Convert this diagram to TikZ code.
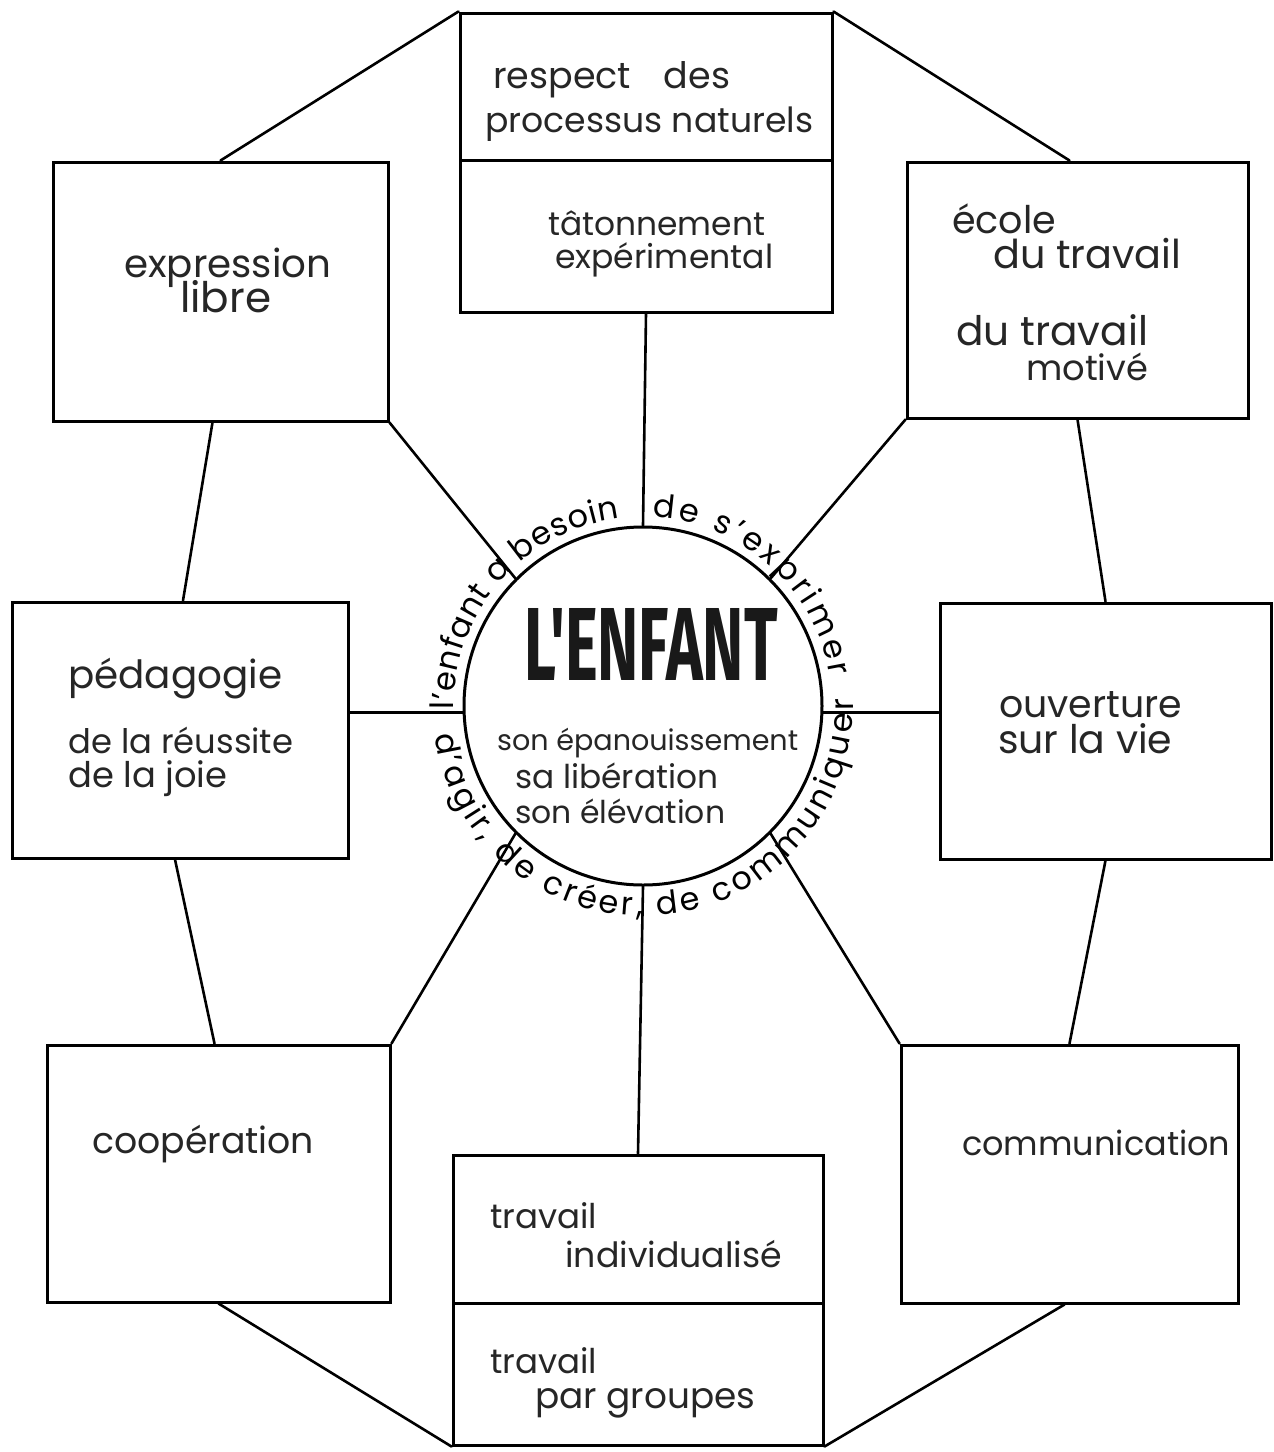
\documentclass[tikz,border=0pt]{standalone}
\usepackage{fontspec}
\setmainfont{Poppins}
\newfontfamily\titlefont{Fira Sans}
\usetikzlibrary{decorations.text,calc}
\newcommand\fitw[2]{\resizebox{#1pt}{!}{#2}}
\newcommand\ringfont{\fontsize{32}{32}\selectfont}
\begin{document}
\begin{tikzpicture}[x=1pt,y=-1pt,
  box/.style={draw, line width=3pt, rectangle, inner sep=0pt},
  lbl/.style={anchor=base west, inner sep=0pt, text=black!85},
  link/.style={line width=2.6pt, line cap=round},
  ring/.style={decorate, decoration={text along path, text align={fit to path}, text={|\ringfont|#1}}}
]
\fill[white] (0,0) rectangle (1274,1452);
\useasboundingbox (0,0) rectangle (1274,1452);

% boxes
\node[box, minimum width=372pt, minimum height=147pt] (resp) at (646,86.5) {};
\node[box, minimum width=372pt, minimum height=152pt] (tat) at (646,236) {};
\node[box, minimum width=335pt, minimum height=259pt] (expr) at (220.5,291.5) {};
\node[box, minimum width=341pt, minimum height=256pt] (ecole) at (1077.5,290) {};
\node[box, minimum width=336pt, minimum height=256pt] (peda) at (180,730) {};
\node[box, minimum width=331pt, minimum height=256pt] (ouv) at (1105.5,731) {};
\node[box, minimum width=343pt, minimum height=257pt] (coop) at (218.5,1173.5) {};
\node[box, minimum width=337pt, minimum height=258pt] (comm) at (1069.5,1174) {};
\node[box, minimum width=370pt, minimum height=148pt] (indiv) at (638,1229) {};
\node[box, minimum width=370pt, minimum height=142pt] (grp) at (638,1374) {};

% centre circle
\coordinate (O) at (643,706);
\node[circle, draw, line width=3pt, minimum size=358pt, inner sep=0pt] (C) at (O) {};

% outer ring of links
\draw[link] (resp.north west) -- (expr.north);
\draw[link] (resp.north east) -- ([xshift=-8pt]ecole.north);
\draw[link] ([xshift=-8pt]expr.south) -- ([xshift=3pt]peda.north);
\draw[link] ([xshift=-5pt]peda.south) -- ([xshift=-4pt]coop.north);
\draw[link] (ecole.south) -- (ouv.north);
\draw[link] (ouv.south) -- (comm.north);
\draw[link] (coop.south) -- (grp.south west);
\draw[link] ([xshift=-5pt]comm.south) -- (grp.south east);

% spokes
\draw[link] (tat.south) -- (C.north);
\draw[link] (indiv.north) -- (C.south);
\draw[link] (C.182) -- (C.182 -| peda.east);
\draw[link] (C.-2) -- (C.-2 -| ouv.west);
\draw[link] (expr.south east) -- (C.135);
\draw[link] (ecole.south west) -- (C.45);
\draw[link] (coop.north east) -- (C.225);
\draw[link] (comm.north west) -- (C.315);

% ring text
\path[ring={l'enfant a besoin}] ($(O)+(-181:189)$) arc[start angle=-181, end angle=-97, radius=189];
\path[ring={de s'exprimer}] ($(O)+(-87:189)$) arc[start angle=-87, end angle=-9, radius=189];
\path[ring={d'agir, de créer, de communiquer}] ($(O)+(-188:210)$) arc[start angle=-188, end angle=-362, radius=210];

% centre text
\node[anchor=base, inner sep=0pt, text=black!90] (title) at (651,680) {\resizebox{253pt}{72pt}{\titlefont\bfseries L'ENFANT}};
\node[lbl] (c1) at (497,750) {\fitw{301}{son épanouissement}};
\node[lbl] (c2) at (515,788) {\fitw{203}{sa libération}};
\node[lbl] (c3) at (515,823) {\fitw{210}{son élévation}};

% box texts
\node[lbl] (r1) at (493,88) {\fitw{237}{respect\hspace{0.9em}des}};
\node[lbl] (r2) at (485,132) {\fitw{328}{processus naturels}};
\node[lbl] (t1) at (548,235) {\fitw{217}{tâtonnement}};
\node[lbl] (t2) at (555,268) {\fitw{218}{expérimental}};
\node[lbl] (e1) at (124,277) {\fitw{207}{expression}};
\node[lbl] (e2) at (180,312) {\fitw{91}{libre}};
\node[lbl] (s1) at (952,233) {\fitw{104}{école}};
\node[lbl] (s2) at (993,268) {\fitw{188}{du travail}};
\node[lbl] (s3) at (956,345) {\fitw{192}{du travail}};
\node[lbl] (s4) at (1026,380) {\fitw{122}{motivé}};
\node[lbl] (p1) at (68,688) {\fitw{214}{pédagogie}};
\node[lbl] (p2) at (68,753) {\fitw{225}{de la réussite}};
\node[lbl] (p3) at (68,787) {\fitw{159}{de la joie}};
\node[lbl] (o1) at (999,717) {\fitw{183}{ouverture}};
\node[lbl] (o2) at (998,753) {\fitw{174}{sur la vie}};
\node[lbl] (k1) at (92,1153) {\fitw{222}{coopération}};
\node[lbl] (m1) at (962,1155) {\fitw{268}{communication}};
\node[lbl] (i1) at (490,1228) {\fitw{107}{travail}};
\node[lbl] (i2) at (565,1267) {\fitw{217}{individualisé}};
\node[lbl] (g1) at (490,1373) {\fitw{107}{travail}};
\node[lbl] (g2) at (535,1408) {\fitw{220}{par groupes}};
\end{tikzpicture}
\end{document}
